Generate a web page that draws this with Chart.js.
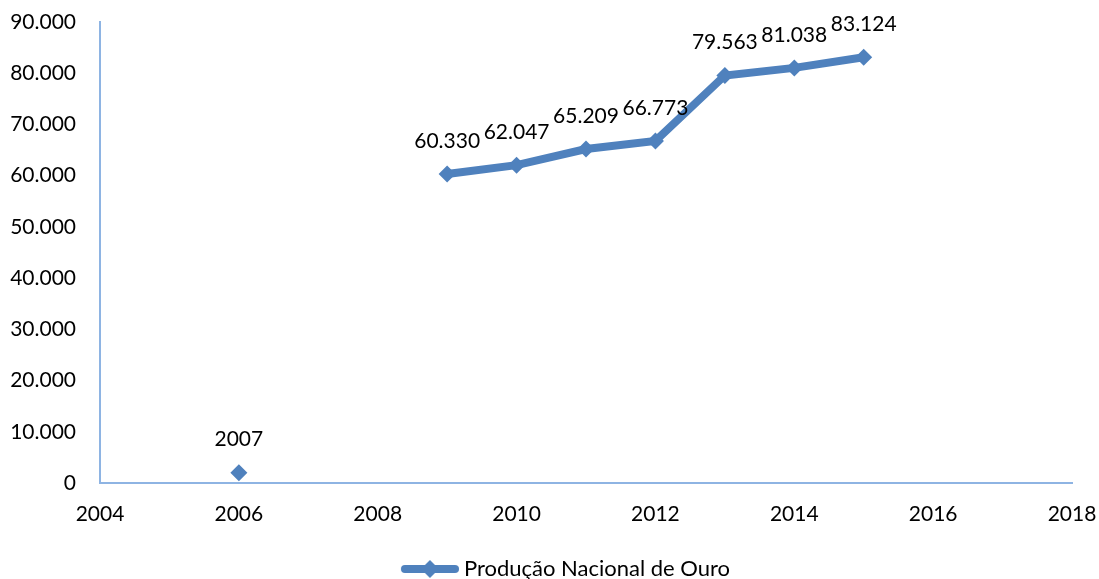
<!DOCTYPE html>
<html>
<head>
<meta charset="utf-8">
<script src="https://cdn.jsdelivr.net/npm/chart.js@4/dist/chart.umd.min.js"></script>
<style>
   html, body { margin: 0; padding: 0; background: #fff; }
   #wrap { width: 1099px; height: 579px; }
</style>
</head>
<body>
<div id="wrap"><canvas id="myChart" width="1099" height="579"></canvas></div>
<script>
const years = [2006, 2007, 2008, 2009, 2010, 2011, 2012, 2013, 2014, 2015];
const production = [2007, null, null, 60330, 62047, 65209, 66773, 79563, 81038, 83124];
const pointLabels = ['2007', '', '', '60.330', '62.047', '65.209', '66.773', '79.563', '81.038', '83.124'];
const seriesLabel = 'Produção Nacional de Ouro';

const lineColor = '#4F81BD';
const axisColor = '#8EB4E3';
const fontFamily = 'Lato, "Open Sans", sans-serif';

// thousands with a dot, like the original
const fmt = (v) => String(Math.round(v)).replace(/\B(?=(\d{3})+(?!\d))/g, '.');

// legend icon: line + diamond, with empty room on the left so the item sits right of centre
const makeLegendIcon = () => {
   const c = document.createElement('canvas');
   c.width = 96; c.height = 18;
   const g = c.getContext('2d');
   g.strokeStyle = lineColor;
   g.lineWidth = 8;
   g.lineCap = 'round';
   g.beginPath(); g.moveTo(42, 9); g.lineTo(92, 9); g.stroke();
   g.fillStyle = lineColor;
   g.beginPath(); g.moveTo(67, 0); g.lineTo(76, 9); g.lineTo(67, 18); g.lineTo(58, 9); g.closePath(); g.fill();
   return c;
}

const valueLabels = {
   id: 'valueLabels',
   afterDatasetsDraw(chart) {
      const ctx = chart.ctx;
      const meta = chart.getDatasetMeta(0);
      ctx.save();
      ctx.font = '21px ' + fontFamily;
      ctx.fillStyle = '#000';
      ctx.textAlign = 'center';
      ctx.textBaseline = 'middle';
      meta.data.forEach((pt, i) => {
         if (production[i] == null) return;
         ctx.fillText(pointLabels[i], pt.x, pt.y - 33);
      });
      ctx.restore();
   }
}

const data = {
   datasets: [{
      label: seriesLabel,
      data: years.map((y, i) => ({ x: y, y: production[i] })),
      showLine: true,
      spanGaps: false,
      borderColor: lineColor,
      backgroundColor: lineColor,
      borderWidth: 8,
      pointStyle: 'rectRot',
      pointRadius: 8.5,
      pointHoverRadius: 8.5,
      pointBorderWidth: 0,
      tension: 0
   }]
};

const config = {
   type: 'scatter',
   data: data,
   plugins: [valueLabels],
   options: {
      responsive: false,
      animation: false,
      layout: { padding: { top: 0, right: 0, left: 0, bottom: -11 } },
      plugins: {
         tooltip: { enabled: false },
         legend: {
            position: 'bottom',
            labels: {
               color: '#000',
               font: { family: fontFamily, size: 22 },
               usePointStyle: true,
               pointStyleWidth: 84,
               padding: 0,
               generateLabels: () => [{ text: seriesLabel, pointStyle: makeLegendIcon(), fillStyle: lineColor, strokeStyle: lineColor, lineWidth: 0, datasetIndex: 0 }]
            }
         }
      },
      scales: {
         x: {
            type: 'linear',
            min: 2004,
            max: 2018,
            afterFit: (s) => { s.height = 75; s.paddingLeft = 0; s.paddingRight = 27; },
            ticks: {
               stepSize: 2,
               color: '#000',
               padding: 19,
               maxRotation: 0,
               font: { family: fontFamily, size: 21 },
               callback: (v) => String(v)
            },
            grid: { display: false, drawTicks: false },
            border: { color: axisColor, width: 2 }
         },
         y: {
            min: 0,
            max: 90000,
            afterFit: (s) => { s.width = 100; s.paddingTop = 22; s.paddingBottom = 0; },
            ticks: {
               stepSize: 10000,
               color: '#000',
               padding: 24,
               font: { family: fontFamily, size: 21 },
               callback: (v) => fmt(v)
            },
            grid: { display: false, drawTicks: false },
            border: { color: axisColor, width: 2 }
         }
      }
   }
};

var ctx = document.getElementById('myChart').getContext('2d');
var myChart = new Chart(ctx, config);
</script>
</body>
</html>
